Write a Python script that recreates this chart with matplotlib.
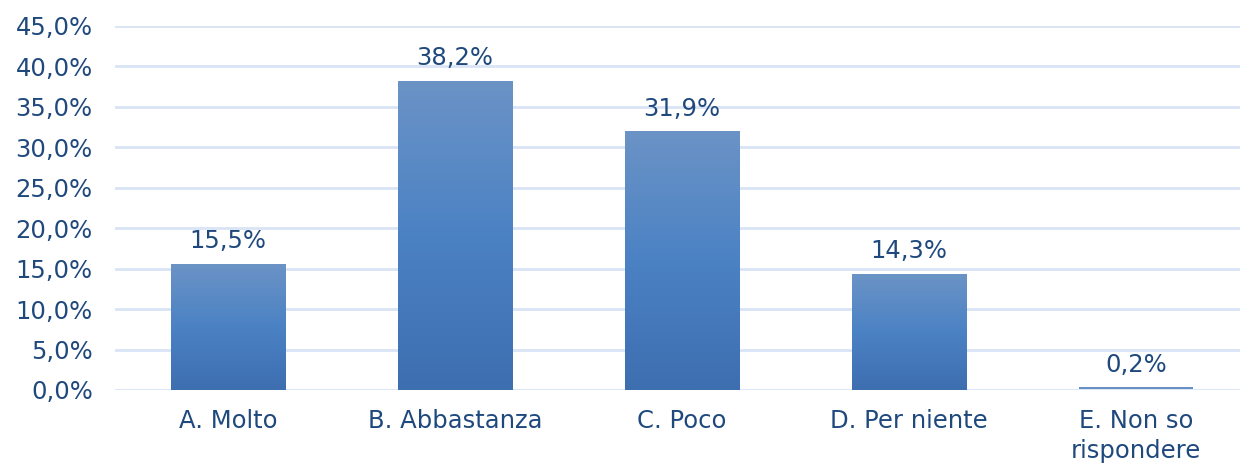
import matplotlib
matplotlib.use("Agg")
import matplotlib.pyplot as plt
import numpy as np
from matplotlib.colors import LinearSegmentedColormap

categories = ["A. Molto", "B. Abbastanza", "C. Poco", "D. Per niente", "E. Non so\nrispondere"]
values = [15.5, 38.2, 31.9, 14.3, 0.2]
yticks = [0, 5, 10, 15, 20, 25, 30, 35, 40, 45]

text_color = "#1F497D"
grid_color = "#D9E4F5"
cmap = LinearSegmentedColormap.from_list("bar", ["#3D6EB0", "#4B82C4", "#6B93C6"])

plt.rcParams["font.family"] = ["DejaVu Sans"]
fig = plt.figure(figsize=(12.4, 4.63), dpi=100)
ax = fig.add_axes([115 / 1240, 1 - 390 / 463, 1 - 115 / 1240, (390 - 26) / 463])

x = np.arange(len(categories))
width = 0.503
fs = 17.5
bars = ax.bar(x, values, width=width, color="none", edgecolor="none", zorder=3)
grad = np.linspace(0, 1, 256).reshape(-1, 1)
for b, v in zip(bars, values):
    x0 = b.get_x()
    if v < 1:
        ax.plot([x0, x0 + width], [v, v], color="#4A7AB8", lw=1.2, zorder=4, solid_capstyle="butt")
    else:
        ax.imshow(grad, cmap=cmap, origin="lower", aspect="auto",
                  extent=(x0, x0 + width, 0, v), zorder=3)
    ax.text(b.get_x() + width / 2, v + 1.4, f"{v:.1f}%".replace(".", ","),
            ha="center", va="bottom", fontsize=fs, color=text_color)

ax.set_xlim(-0.498, 4.458)
ax.set_ylim(0, 45)
ax.set_yticks(yticks)
ax.set_yticklabels([f"{t:.1f}%".replace(".", ",") for t in yticks])
ax.set_xticks(x)
ax.set_xticklabels(categories, linespacing=1.3, va="top")
ax.tick_params(axis="both", length=0, labelsize=fs, labelcolor=text_color)
ax.tick_params(axis="y", pad=16)
ax.tick_params(axis="x", pad=14)
ax.grid(axis="y", color=grid_color, lw=2, zorder=0)
for s in ax.spines.values():
    s.set_visible(False)

fig.savefig("out.png", dpi=100)
